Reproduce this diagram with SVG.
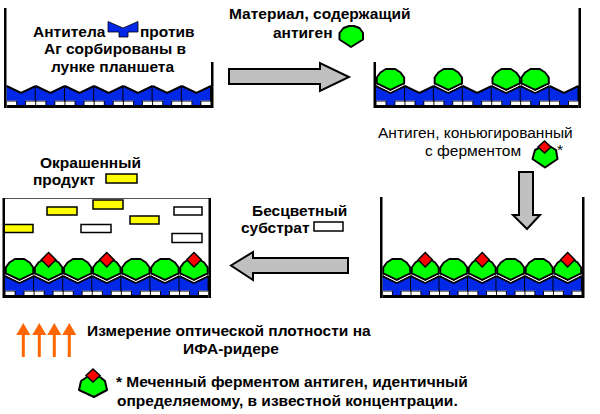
<svg xmlns="http://www.w3.org/2000/svg" xmlns:xlink="http://www.w3.org/1999/xlink" width="600" height="414" viewBox="0 0 600 414">
<style>
text{font-family:"Liberation Sans",Arial,sans-serif;font-size:15.5px;fill:#000}
.b{font-weight:bold}
.blue{fill:#0028e6}
.ln{fill:none;stroke:#000;stroke-width:2;stroke-linejoin:miter}
.dash{fill:#fff}
.green{fill:#00ff00;stroke:#000;stroke-width:2;stroke-linejoin:round}
.red{fill:#ff0000;stroke:#000;stroke-width:1.5}
.wall{fill:#000}
.yel{fill:#ffff00;stroke:#000;stroke-width:1.5}
.wht{fill:#fff;stroke:#000;stroke-width:1.5}
.gray{fill:#c0c0c0;stroke:#000;stroke-width:2;stroke-linejoin:miter}
.orange{fill:#ff6600}
</style>
<defs>
<g id="ab">
<path class="blue" d="M0,0 L14.7,7 L29.4,0 L29.4,14.5 L0,14.5 Z"/>
<rect class="dash" x="0.5" y="15.5" width="9.2" height="3.5"/>
<rect class="dash" x="19.7" y="15.5" width="9.2" height="3.5"/>
<rect class="blue" x="10.7" y="14" width="8" height="5"/>
<path class="ln" d="M0,0 L14.7,7 L29.4,0 M29.4,0 L29.4,15"/>
</g>
<g id="ag">
<path class="green" d="M0.8,-2.5 L0.8,-8.5 L4.5,-13.5 L10,-17 L19.4,-17 L24.9,-13.5 L28.6,-8.5 L28.6,-2.5 L14.7,4 Z"/>
<path d="M1.5,-0.8 L14.7,5.6 L27.9,-0.8" fill="none" stroke="#fff" stroke-width="1"/>
</g>
<g id="lag">
<use xlink:href="#ag"/>
<path class="red" d="M14.7,-23.5 L22,-16.3 L14.7,-9 L7.4,-16.3 Z"/>
</g>
<g id="layer">
<rect x="0" y="14.5" width="205.8" height="7.5" fill="#000"/>
<use xlink:href="#ab" x="0"/>
<use xlink:href="#ab" x="29.4"/>
<use xlink:href="#ab" x="58.8"/>
<use xlink:href="#ab" x="88.2"/>
<use xlink:href="#ab" x="117.6"/>
<use xlink:href="#ab" x="147"/>
<use xlink:href="#ab" x="176.4"/>
</g>
<path id="oarrow" class="orange" d="M-7,12 L0,0 L7,12 L1.5,12 L1.5,34 L-1.5,34 L-1.5,12 Z"/>
</defs>

<g id="well1">
<g transform="translate(6.5,86) scale(0.9937,1)">
<use xlink:href="#layer"/>
</g>
<rect class="wall" x="4" y="8" width="2.5" height="100"/>
<rect class="wall" x="211" y="62" width="2.5" height="46"/>
<text class="b" x="33" y="36.5">Антитела</text>
<path class="blue" d="M108,21.5 L123,28 L138,21.5 L138,32 L128,32 L128,37 L119,37 L119,32 L108,32 Z" stroke="#000" stroke-width="0.8"/>
<text class="b" x="140" y="36.5">против</text>
<text class="b" x="115" y="54" text-anchor="middle">Аг сорбированы в</text>
<text class="b" x="112.5" y="71.5" text-anchor="middle">лунке планшета</text>
</g>

<g id="well2">
<g transform="translate(376,86) scale(0.984,1)">
<use xlink:href="#layer"/>
<use xlink:href="#ag" x="0"/>
<use xlink:href="#ag" x="58.8"/>
<use xlink:href="#ag" x="117.6"/>
<use xlink:href="#ag" x="147"/>
</g>
<rect class="wall" x="373.5" y="62" width="2.5" height="46"/>
<rect class="wall" x="578.5" y="8" width="2.5" height="100"/>
</g>

<g id="material">
<text class="b" x="229" y="18.5">Материал, содержащий</text>
<text class="b" x="273" y="37.5">антиген</text>
<path class="green" d="M339.5,33 L343.5,28 L349,26 L354,26 L359.5,28 L363,33 L363,39.5 L351,47 L339.5,39.5 Z"/>
</g>

<g id="conjugate">
<text x="378" y="137.8">Антиген, коньюгированный</text>
<text x="425" y="156.3">с ферментом</text>
<path class="green" d="M535,150 L541,147 L551,147 L556,150 L557.5,159 L545,167.5 L532.5,159 Z"/>
<path class="red" d="M544.5,141 L551,147 L544.5,153 L538,147 Z"/>
<text x="557" y="155">*</text>
</g>

<g id="well3">
<g transform="translate(382.5,276) scale(0.969,1)">
<use xlink:href="#layer"/>
<use xlink:href="#ag" x="0"/>
<use xlink:href="#lag" x="29.4"/>
<use xlink:href="#ag" x="58.8"/>
<use xlink:href="#lag" x="88.2"/>
<use xlink:href="#ag" x="117.6"/>
<use xlink:href="#ag" x="147"/>
<use xlink:href="#lag" x="176.4"/>
</g>
<rect class="wall" x="380" y="197" width="2.5" height="101"/>
<rect class="wall" x="582" y="197" width="2.5" height="101"/>
</g>

<g id="substrate">
<text class="b" x="252" y="216">Бесцветный</text>
<text class="b" x="241" y="232.5">субстрат</text>
<rect class="wht" x="314" y="222" width="29" height="9"/>
</g>

<g id="well4">
<line x1="3" y1="198.5" x2="210" y2="198.5" stroke="#555" stroke-width="1"/>
<rect class="yel" x="47" y="207" width="30" height="8"/>
<rect class="yel" x="93" y="200" width="30" height="9"/>
<rect class="wht" x="174" y="207" width="28" height="8"/>
<rect class="yel" x="130" y="216" width="29" height="8"/>
<rect class="yel" x="4" y="224.5" width="29" height="8"/>
<rect class="wht" x="81" y="224.5" width="30" height="8"/>
<rect class="wht" x="172" y="233.5" width="30" height="9"/>
<g transform="translate(5,276) scale(0.989,1)">
<use xlink:href="#layer"/>
<use xlink:href="#ag" x="0"/>
<use xlink:href="#lag" x="29.4"/>
<use xlink:href="#ag" x="58.8"/>
<use xlink:href="#lag" x="88.2"/>
<use xlink:href="#ag" x="117.6"/>
<use xlink:href="#ag" x="147"/>
<use xlink:href="#lag" x="176.4"/>
</g>
<rect class="wall" x="2.5" y="198" width="2.5" height="100"/>
<rect class="wall" x="208.5" y="198" width="2.5" height="100"/>
</g>

<g id="product">
<text class="b" x="40" y="168">Окрашенный</text>
<text class="b" x="33" y="185">продукт</text>
<rect class="yel" x="106" y="174" width="31" height="9"/>
</g>

<g id="measurement">
<use xlink:href="#oarrow" x="23.3" y="323"/>
<use xlink:href="#oarrow" x="39.3" y="323"/>
<use xlink:href="#oarrow" x="54.3" y="323"/>
<use xlink:href="#oarrow" x="69.3" y="323"/>
<text class="b" x="87" y="336">Измерение оптической плотности на</text>
<text class="b" x="183" y="354">ИФА-ридере</text>
</g>

<g id="legend">
<path class="green" d="M81,381 L87,377 L100,377 L105,381 L107,390 L94,397 L79,390 Z"/>
<path class="red" d="M93,369 L100,375.5 L93,382 L86,375.5 Z"/>
<text class="b" x="116" y="387">* Меченный ферментом антиген, идентичный</text>
<text class="b" x="117" y="405.5">определяемому, в известной концентрации.</text>
</g>

<g id="connectors">
<path class="gray" d="M229,69 L320,69 L320,63 L349,77 L320,91 L320,84 L229,84 Z"/>
<path class="gray" d="M519,172 L533,172 L533,215 L540,215 L527,229 L513,215 L519,215 Z"/>
<path class="gray" d="M348,258 L253,258 L253,252 L231,265.5 L253,280 L253,273 L348,273 Z"/>
</g>
</svg>
